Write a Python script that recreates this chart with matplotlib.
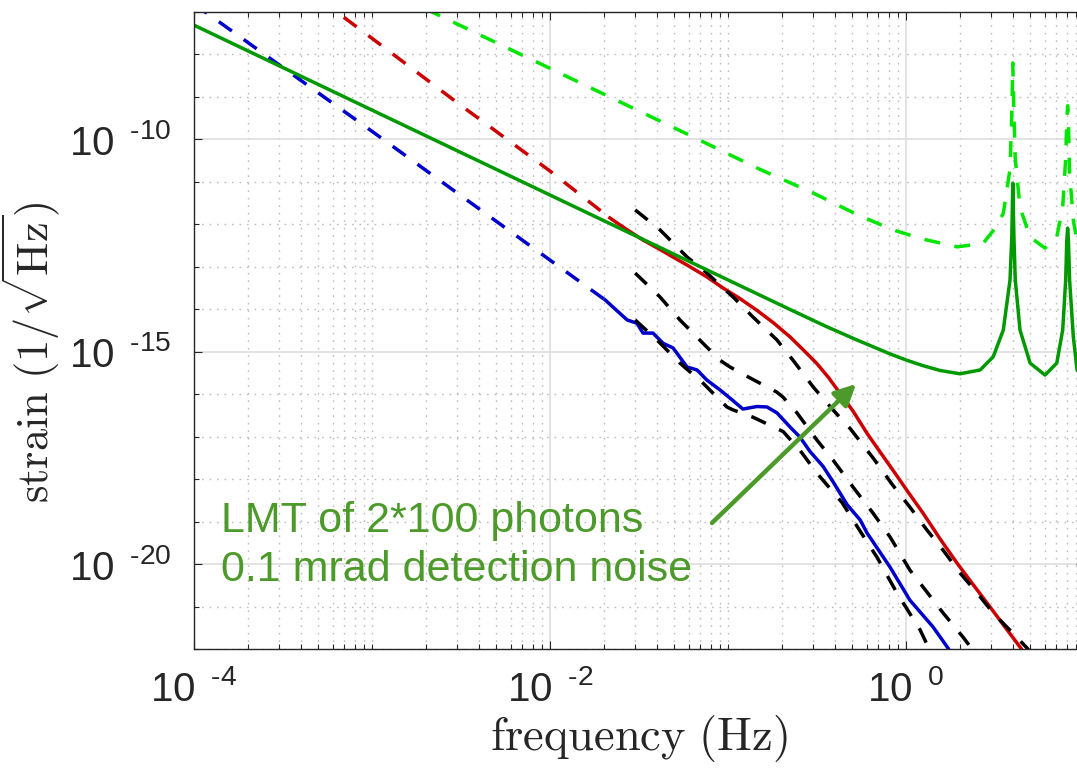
import numpy as np
import matplotlib
matplotlib.use('Agg')
import matplotlib.pyplot as plt
from matplotlib.ticker import FixedLocator, NullFormatter

plt.rcParams['font.family'] = ['Liberation Sans', 'DejaVu Sans']
plt.rcParams['mathtext.fontset'] = 'custom'
plt.rcParams['mathtext.rm'] = 'Liberation Sans'
plt.rcParams['mathtext.it'] = 'Liberation Sans:italic'
plt.rcParams['mathtext.bf'] = 'Liberation Sans:bold'

# ---- data (frequency in Hz, strain in 1/sqrt(Hz)) ----
# solid dark green: noise with two resonances
grn_f = [1e-4, 1e-3, 1e-2, 0.1, 0.224, 0.35, 0.527, 0.813, 1.01, 1.25, 1.55, 2.01,
         2.61, 3.09, 3.52, 3.84, 3.93, 3.98, 4.04, 4.11, 4.37, 4.98, 6.04, 7.03,
         7.59, 7.89, 8.0, 8.09, 8.18, 8.3, 8.71, 9.14, 10.0]
grn_h = [4.9e-8, 4.9e-10, 4.9e-12, 4.9e-14, 9.8e-15, 4.07e-15, 1.91e-15, 8.9e-16,
         6.3e-16, 4.68e-16, 3.63e-16, 3.02e-16, 3.72e-16, 7.6e-16, 3.24e-15, 4.9e-14,
         5.0e-13, 9.3e-12, 5.0e-13, 4.9e-14, 3.24e-15, 5.4e-16, 2.82e-16, 5.4e-16,
         3.24e-15, 4.9e-14, 4.0e-13, 8.1e-13, 4.0e-13, 4.9e-14, 2.24e-15, 3.72e-16,
         2.5e-16]

# dashed light green
lgrn_f = [2e-3, 1e-2, 0.0635, 0.15, 0.30, 0.537, 0.845, 1.25, 1.94, 2.71, 3.09,
          3.52, 3.84, 3.93, 3.98, 4.04, 4.11, 4.37, 4.98, 6.04, 7.03, 7.59, 7.89,
          8.0, 8.09, 8.18, 8.3, 8.71, 9.14, 10.0]
lgrn_h = [1.18e-7, 4.7e-9, 1.15e-10, 2.0e-11, 5.5e-12, 1.66e-12, 7.4e-13, 4.47e-13,
          2.95e-13, 3.55e-13, 7.1e-13, 1.8e-12, 2.0e-11, 4.0e-10, 6.3e-9, 4.0e-10,
          3.5e-11, 2.5e-12, 5.0e-13, 2.75e-13, 5.0e-13, 2.5e-12, 3.5e-11, 2.5e-10,
          6.2e-10, 2.5e-10, 1.6e-11, 1.26e-12, 4.0e-13, 2.0e-13]

# red: dashed extrapolation + solid measured part
red_dash_f = [5e-4, 1e-3, 3e-3, 1e-2, 0.0217]
red_dash_h = [2.1e-7, 2.4e-8, 7.4e-10, 1.8e-11, 1.41e-12]
red_f = [0.0217, 0.0269, 0.0333, 0.0398, 0.0491, 0.0612, 0.0762, 0.0938, 0.115,
         0.145, 0.180, 0.223, 0.264, 0.314, 0.366, 0.426, 0.504, 0.604, 0.714,
         0.845, 1.026, 1.247, 1.549, 1.936, 2.399, 2.965, 3.597, 4.365, 5.01]
red_h = [1.41e-12, 7.6e-13, 4.27e-13, 2.82e-13, 1.70e-13, 1.0e-13, 5.75e-14,
         3.16e-14, 1.86e-14, 9.5e-15, 4.8e-15, 2.24e-15, 1.12e-15, 5.4e-16,
         2.51e-16, 1.05e-16, 4.0e-17, 1.2e-17, 4.4e-18, 1.62e-18, 5.0e-19,
         1.58e-19, 4.0e-20, 1.05e-20, 3.16e-21, 9.8e-22, 3.3e-22, 1.12e-22, 5.0e-23]

# blue: dashed extrapolation + solid measured part
blue_dash_f = [1e-4, 1e-3, 5.73e-3, 0.0204]
blue_dash_h = [1.55e-7, 1.55e-10, 7.76e-13, 1.66e-14]
blue_f = [0.0204, 0.0271, 0.0308, 0.0333, 0.0379, 0.0432, 0.0491, 0.0589, 0.0670,
          0.0762, 0.0902, 0.1026, 0.1213, 0.1455, 0.1656, 0.1884, 0.2228, 0.2535,
          0.289, 0.342, 0.389, 0.467, 0.552, 0.604, 0.813, 1.052, 1.419, 1.722, 1.862]
blue_h = [1.66e-14, 5.62e-15, 4.68e-15, 2.75e-15, 2.75e-15, 1.58e-15, 1.23e-15,
          4.37e-16, 3.72e-16, 2.14e-16, 1.26e-16, 8.1e-17, 4.47e-17, 5.13e-17,
          5.0e-17, 3.63e-17, 1.70e-17, 9.8e-18, 4.47e-18, 2.0e-18, 8.7e-19, 2.5e-19,
          1.1e-19, 5.4e-20, 8.5e-21, 1.41e-21, 3.3e-22, 1.05e-22, 6.3e-23]

# black dashed curves
blkA_f = [0.0301, 0.0415, 0.0589, 0.0762, 0.1067, 0.138, 0.188, 0.232, 0.301, 0.389,
          0.484, 0.653, 0.845, 1.052, 1.312, 1.614, 2.01, 2.506, 3.083, 3.99, 4.79, 5.25]
blkA_h = [2.19e-12, 7.4e-13, 1.70e-13, 7.1e-14, 1.95e-14, 6.6e-15, 1.91e-15, 6.3e-16,
          1.48e-16, 4.27e-17, 1.58e-17, 3.16e-18, 7.1e-19, 2.19e-19, 6.3e-20, 2.14e-20,
          6.2e-21, 2.09e-21, 7.1e-22, 2.34e-22, 1.05e-22, 6.3e-23]
blkB_f = [0.0301, 0.0415, 0.0537, 0.0724, 0.0902, 0.1026, 0.128, 0.188, 0.204, 0.244,
          0.316, 0.389, 0.504, 0.653, 0.813, 1.052, 1.247, 1.614, 2.09, 2.4]
blkB_h = [7.1e-14, 1.95e-14, 5.6e-15, 1.58e-15, 6.3e-16, 4.37e-16, 2.63e-16, 1.12e-16,
          8.5e-17, 3.63e-17, 8.3e-18, 2.82e-18, 6.5e-19, 1.58e-19, 4.37e-20, 7.2e-21,
          2.88e-21, 7.1e-22, 1.91e-22, 8.9e-23]
blkC_f = [0.0301, 0.0398, 0.0537, 0.0724, 0.0986, 0.1067, 0.138, 0.204, 0.2535, 0.316,
          0.389, 0.437, 0.552, 0.687, 0.889, 1.2, 1.35]
blkC_h = [5.6e-15, 1.91e-15, 5.4e-16, 1.82e-16, 5.0e-17, 4.27e-17, 2.88e-17, 1.32e-17,
          4.8e-18, 1.38e-18, 5.0e-19, 2.82e-19, 6.0e-20, 1.45e-20, 2.09e-21, 2.82e-22,
          1.0e-22]

xticks = [1e-4, 1e-2, 1e0]
xticklabels = ['\u20104', '\u20102', '0']
yticks = [1e-20, 1e-15, 1e-10]
yticklabels = ['\u201020', '\u201015', '\u201010']

note_lines = ['LMT of 2*100 photons', '0.1 mrad detection noise']

# ---- figure ----
fig = plt.figure(figsize=(10.77, 7.68), dpi=100)
ax = fig.add_axes([194 / 1077, 119 / 768, 890 / 1077, 637 / 768])
ax.set_xscale('log')
ax.set_yscale('log')
ax.set_xlim(1e-4, 1e1)
ax.set_ylim(1e-22, 1e-7)

lw = 2.5
dash = (4.6, 4.2)
ax.plot(lgrn_f, lgrn_h, color='#00e600', lw=lw, dashes=dash)
ax.plot(red_dash_f, red_dash_h, color='#cc0000', lw=lw, dashes=dash)
ax.plot(red_f, red_h, color='#cc0000', lw=lw)
ax.plot(blue_dash_f, blue_dash_h, color='#0000cc', lw=lw, dashes=dash)
ax.plot(blue_f, blue_h, color='#0000cc', lw=lw)
for fx, hx in [(blkA_f, blkA_h), (blkB_f, blkB_h), (blkC_f, blkC_h)]:
    ax.plot(fx, hx, color='black', lw=lw, dashes=dash)
ax.plot(grn_f, grn_h, color='#009900', lw=lw)

# ticks and grid
ax.xaxis.set_major_locator(FixedLocator(xticks))
ax.yaxis.set_major_locator(FixedLocator(yticks))
xminor = [k * 10.0 ** d for d in range(-4, 1) for k in range(1, 10)] + [10.0]
xminor = [v for v in xminor if v not in xticks]
yminor = [10.0 ** d for d in range(-22, -6) if 10.0 ** d not in yticks]
ax.xaxis.set_minor_locator(FixedLocator(xminor))
ax.yaxis.set_minor_locator(FixedLocator(yminor))
ax.xaxis.set_minor_formatter(NullFormatter())
ax.yaxis.set_minor_formatter(NullFormatter())
ax.set_xticklabels([r'$\mathregular{10^{\ \ %s}}$' % s for s in xticklabels])
ax.set_yticklabels([r'$\mathregular{10^{\ \ %s}}$' % s for s in yticklabels])

ax.grid(which='major', color='#dedede', lw=1.2, ls='-')
ax.grid(which='minor', color='#bdbdbd', lw=1.0, ls=(0, (1.2, 4.2)))
ax.set_axisbelow(True)
ax.tick_params(which='both', direction='in', top=True, right=True, width=0.8,
               color='#262626', labelcolor='#262626', labelsize=29)
ax.tick_params(which='major', length=6)
ax.tick_params(which='minor', length=3.6)
ax.tick_params(axis='x', pad=15)
ax.tick_params(axis='y', pad=16)
for sp in ax.spines.values():
    sp.set_color('#262626')
    sp.set_linewidth(1.0)

ax.set_xlabel(r'$\mathrm{frequency}\ (\mathrm{Hz})$', fontsize=33.5, math_fontfamily='cm',
              color='#262626')
ax.set_ylabel(r'$\mathrm{strain}\ (1/\sqrt{\mathrm{Hz}})$', fontsize=32,
              math_fontfamily='cm', color='#262626')
ax.xaxis.set_label_coords(0.5, -0.1005)
ax.yaxis.set_label_coords(-0.148, 0.466)

# annotation
note_color = '#4c9a2a'
ax.text(1.42e-4, 5.6e-20, note_lines[0], color=note_color, fontsize=31,
        ha='left', va='baseline')
ax.text(1.42e-4, 4.0e-21, note_lines[1], color=note_color, fontsize=31,
        ha='left', va='baseline')
ax.annotate('', xy=(0.524, 1.74e-16), xytext=(0.0813, 9.3e-20),
            arrowprops=dict(arrowstyle='-|>', color=note_color, lw=3.2,
                            mutation_scale=32, shrinkA=0, shrinkB=0))

fig.savefig('out.png', dpi=100)
